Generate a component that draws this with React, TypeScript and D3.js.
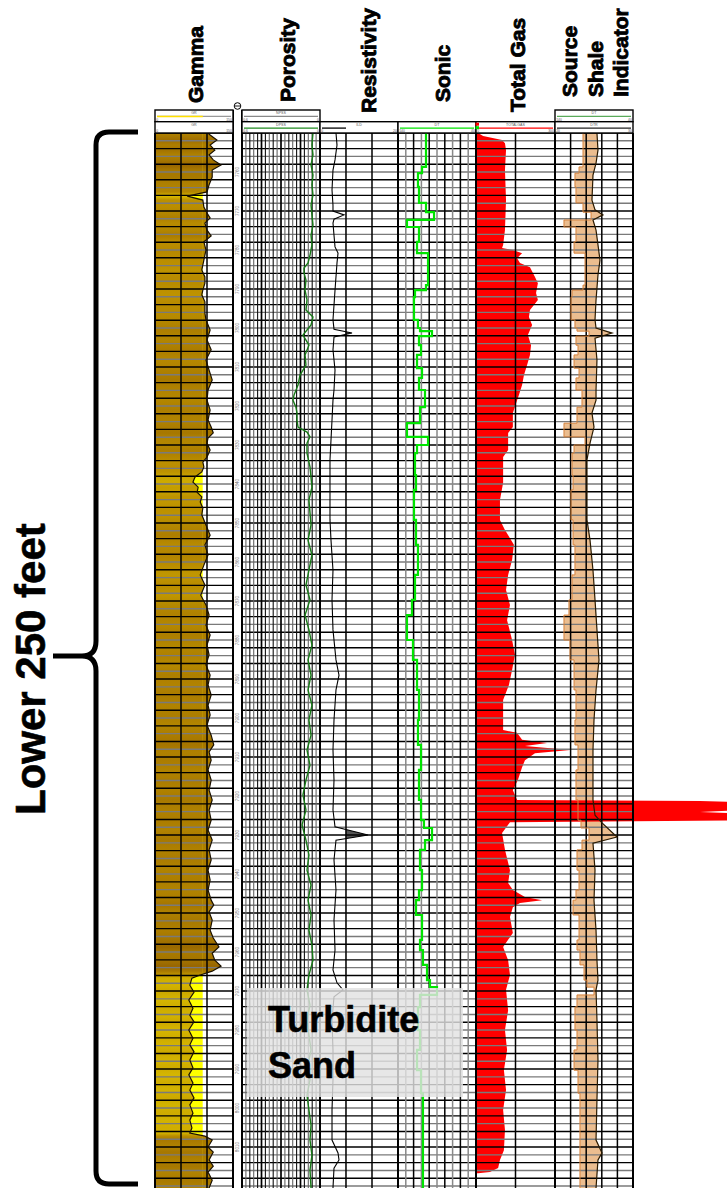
import React from "react";
import * as d3 from "d3";

type Pt = [number, number];

const TOP_DEPTH = 7750;
const BASE_DEPTH = 8020.5;
const PLOT_TOP = 133;
const PLOT_BOTTOM = 1188;

const trackTitles = ["Gamma", "Porosity", "Resistivity", "Sonic", "Total Gas"];
const ssiTitleLines = ["Source", "Shale", "Indicator"];
const braceLabel = "Lower 250 feet";
const sandLabel = ["Turbidite", "Sand"];

// Gamma ray, API  [depth ft, value]
const gammaData: Pt[] = [
  [7750.0,102],[7750.5,106],[7751.8,119],[7753.1,106],[7754.4,115],[7755.6,104],[7756.9,112],[7758.2,127],[7759.5,110],[7761.3,110],[7763.3,104],[7765.1,100],[7766.2,62],[7767.2,92],[7769.0,94],[7770.5,100],[7771.8,106],[7773.1,96],[7774.9,100],[7776.4,108],[7777.9,94],[7780.0,98],[7782.6,94],[7785.1,90],[7786.9,96],[7788.5,96],[7790.3,92],[7791.5,90],[7793.3,96],[7796.2,96],[7797.9,98],[7800.5,106],[7803.1,100],[7805.6,108],[7808.2,98],[7810.8,104],[7813.3,110],[7815.9,102],[7818.5,100],[7821.0,106],[7823.6,102],[7825.4,108],[7826.9,112],[7828.2,102],[7829.5,100],[7831.3,106],[7833.1,100],[7834.4,92],[7835.6,94],[7836.9,90],[7838.2,77],[7839.5,73],[7840.8,83],[7842.1,81],[7843.3,90],[7844.6,87],[7846.2,92],[7847.9,90],[7850.5,98],[7853.1,106],[7855.6,96],[7858.2,102],[7860.8,94],[7863.3,87],[7865.9,96],[7868.5,88],[7871.0,98],[7873.6,104],[7876.2,98],[7878.7,106],[7881.3,100],[7883.8,104],[7886.4,98],[7889.0,106],[7891.5,102],[7894.1,108],[7896.7,102],[7899.2,106],[7901.8,100],[7904.4,108],[7906.9,113],[7908.7,104],[7910.8,108],[7913.3,102],[7915.9,108],[7918.5,104],[7921.0,110],[7923.6,104],[7926.2,108],[7928.7,102],[7931.3,110],[7933.8,104],[7936.4,108],[7939.0,102],[7941.5,106],[7944.1,102],[7946.7,108],[7947.9,113],[7949.7,104],[7951.8,110],[7954.4,106],[7956.4,112],[7958.7,123],[7960.3,110],[7962.1,115],[7963.6,127],[7964.9,110],[7965.9,87],[7966.7,71],[7968.5,67],[7970.3,75],[7972.3,65],[7974.4,73],[7976.2,67],[7977.9,75],[7980.0,65],[7982.1,73],[7983.8,67],[7985.6,75],[7987.7,67],[7989.7,73],[7991.5,65],[7993.6,73],[7995.4,67],[7997.4,75],[7999.2,67],[8001.3,73],[8003.1,67],[8005.1,71],[8006.4,67],[8007.2,96],[8008.2,110],[8010.0,102],[8011.3,112],[8013.3,104],[8014.9,112],[8016.4,102],[8018.5,110],[8020.5,104]
];

// Density porosity (DPSS), v/v
const porosityData: Pt[] = [
  [7750.0,0.054],[7753.1,0.062],[7755.6,0.054],[7758.2,0.069],[7760.8,0.054],[7763.3,0.062],[7765.9,0.054],[7768.5,0.069],[7771.0,0.062],[7773.6,0.054],[7776.2,0.069],[7778.7,0.062],[7781.3,0.077],[7783.3,0.092],[7784.6,0.123],[7785.9,0.123],[7787.7,0.108],[7790.3,0.115],[7792.8,0.100],[7795.4,0.108],[7797.2,0.054],[7799.2,0.069],[7801.8,0.131],[7804.4,0.085],[7806.9,0.115],[7809.5,0.108],[7812.1,0.154],[7814.6,0.169],[7817.2,0.200],[7818.5,0.208],[7820.3,0.185],[7821.8,0.177],[7823.6,0.177],[7825.4,0.169],[7826.7,0.100],[7827.9,0.077],[7829.5,0.100],[7832.1,0.100],[7835.6,0.077],[7840.8,0.062],[7844.1,0.085],[7847.4,0.077],[7850.5,0.069],[7854.4,0.092],[7858.2,0.062],[7862.1,0.085],[7865.9,0.108],[7869.7,0.077],[7873.6,0.115],[7877.4,0.085],[7881.3,0.062],[7885.1,0.092],[7889.0,0.069],[7892.8,0.092],[7896.7,0.062],[7900.5,0.085],[7904.4,0.069],[7908.2,0.100],[7912.1,0.077],[7915.9,0.108],[7919.7,0.131],[7923.6,0.108],[7927.4,0.138],[7931.3,0.108],[7935.1,0.085],[7939.0,0.100],[7942.8,0.069],[7946.7,0.092],[7950.5,0.069],[7954.4,0.085],[7958.2,0.062],[7962.1,0.054],[7965.9,0.085],[7969.7,0.100],[7973.6,0.077],[7977.4,0.100],[7981.3,0.085],[7985.1,0.069],[7989.0,0.092],[7992.8,0.077],[7996.7,0.100],[8000.5,0.085],[8004.4,0.069],[8008.2,0.077],[8012.1,0.062],[8015.9,0.077],[8020.5,0.069]
];

// Deep resistivity (ILD), ohm-m
const ildData: Pt[] = [
  [7750.0,4.10],[7753.1,4.36],[7756.9,3.85],[7759.5,3.33],[7764.6,3.08],[7768.5,3.33],[7770.0,3.33],[7771.0,6.15],[7772.1,3.59],[7773.1,3.33],[7776.2,3.59],[7779.2,3.85],[7780.8,4.62],[7783.3,4.36],[7790.3,3.85],[7797.9,3.33],[7800.3,3.59],[7801.3,8.21],[7802.3,3.59],[7805.6,3.33],[7810.8,3.85],[7815.9,3.59],[7818.5,3.33],[7823.6,3.08],[7828.7,2.82],[7833.8,2.56],[7844.1,2.56],[7849.2,2.56],[7854.4,2.82],[7862.1,3.33],[7869.7,3.08],[7877.4,3.33],[7885.1,4.10],[7889.0,4.87],[7892.8,4.10],[7900.5,3.59],[7908.2,3.33],[7915.9,3.59],[7923.6,3.33],[7927.9,3.85],[7930.0,12.31],[7931.3,4.10],[7936.4,3.59],[7944.1,4.10],[7951.8,3.59],[7959.5,3.85],[7964.6,3.33],[7967.9,4.36],[7969.7,5.90],[7971.5,3.59],[7977.4,3.08],[7985.1,3.33],[7992.8,3.33],[8000.5,3.08],[8008.2,3.08],[8011.5,4.62],[8013.3,4.87],[8015.4,3.59],[8020.5,3.33]
];

// Sonic (DT), us/ft  - value holds until next depth
const dtData: Pt[] = [
  [7750.0,104.1],[7758.7,109.2],[7760.3,114.4],[7763.8,113.1],[7767.9,104.1],[7770.3,93.8],[7772.3,128.5],[7774.1,113.1],[7777.9,115.6],[7780.8,101.5],[7789.0,104.1],[7790.3,118.2],[7792.1,119.5],[7797.9,114.4],[7800.0,111.8],[7800.8,96.4],[7802.1,113.1],[7804.4,110.5],[7806.9,115.6],[7810.3,109.2],[7812.8,113.1],[7815.9,105.4],[7820.3,111.8],[7824.4,128.5],[7827.9,101.5],[7830.0,115.6],[7832.1,118.2],[7837.7,116.9],[7841.5,119.5],[7849.2,116.9],[7855.6,114.4],[7863.3,118.2],[7869.7,122.1],[7873.6,128.5],[7880.0,120.8],[7885.1,115.6],[7892.8,113.1],[7900.5,114.4],[7906.9,110.5],[7913.3,113.1],[7921.0,110.5],[7926.2,106.7],[7928.2,96.4],[7931.3,105.4],[7933.8,111.8],[7939.0,109.2],[7944.1,113.1],[7946.7,116.9],[7950.5,109.2],[7956.9,111.8],[7959.5,108.0],[7963.3,102.8],[7967.2,99.0],[7969.0,90.0],[7971.0,111.8],[7974.1,114.4],[7980.0,111.8],[7985.1,115.6],[7990.3,110.5],[7996.2,108.0],[8020.5,108.0]
];

// DTR curve of the source shale indicator
const dtrData: Pt[] = [
  [7750.0,25.38],[7754.4,25.51],[7757.7,25.26],[7760.8,24.87],[7767.2,24.74],[7769.7,25.13],[7771.0,26.15],[7772.3,24.87],[7774.9,25.26],[7778.7,25.51],[7782.6,25.77],[7786.4,25.51],[7792.8,25.26],[7797.9,25.13],[7800.0,25.26],[7801.3,27.31],[7802.6,25.13],[7808.2,25.38],[7815.9,25.26],[7818.5,25.26],[7821.8,24.74],[7825.4,25.00],[7829.5,24.49],[7833.8,24.10],[7849.2,24.10],[7854.4,24.49],[7862.1,24.87],[7869.7,25.13],[7877.4,25.38],[7885.1,25.64],[7892.8,25.26],[7900.5,25.00],[7908.2,24.87],[7921.0,24.87],[7924.9,25.13],[7926.9,26.03],[7930.5,27.95],[7932.1,24.87],[7939.0,25.13],[7946.7,25.00],[7954.4,25.26],[7962.1,25.38],[7967.2,25.51],[7969.7,25.26],[7977.4,25.38],[7987.7,25.51],[7997.9,25.38],[8008.2,25.26],[8011.5,26.03],[8013.3,25.51],[8020.5,25.26]
];

// Total gas, units
const gasData: Pt[] = [
  [7750.0,8],[7750.8,27],[7751.8,99],[7752.6,110],[7754.4,114],[7759.5,110],[7767.2,114],[7774.9,110],[7778.7,103],[7779.5,99],[7780.0,140],[7780.8,175],[7782.1,156],[7783.3,167],[7784.4,205],[7786.9,224],[7788.5,235],[7791.0,228],[7792.8,235],[7795.4,205],[7797.2,201],[7799.2,213],[7801.8,197],[7804.4,209],[7806.9,205],[7809.5,194],[7812.1,182],[7814.6,175],[7817.2,163],[7818.5,156],[7821.8,140],[7825.4,140],[7826.9,122],[7831.3,122],[7833.1,103],[7839.7,103],[7844.1,91],[7849.2,91],[7851.8,110],[7855.6,144],[7859.5,137],[7863.3,122],[7867.2,114],[7871.0,129],[7874.9,118],[7880.0,137],[7883.8,148],[7887.7,137],[7891.5,125],[7895.4,103],[7903.1,103],[7903.8,156],[7905.6,175],[7906.4,270],[7907.2,186],[7908.2,357],[7909.0,224],[7910.8,186],[7912.6,175],[7915.9,159],[7918.5,140],[7921.0,156],[7921.3,851],[7921.8,1154],[7923.1,1192],[7924.1,851],[7924.9,1173],[7926.2,1116],[7926.7,129],[7929.5,99],[7933.8,110],[7939.0,129],[7942.3,122],[7944.1,140],[7945.9,186],[7946.7,251],[7947.4,167],[7948.5,140],[7951.0,129],[7955.1,140],[7958.7,103],[7962.1,122],[7965.9,129],[7969.7,114],[7974.9,122],[7980.0,110],[7985.1,118],[7990.3,106],[7995.4,114],[8000.5,103],[8005.6,110],[8010.8,106],[8013.3,91],[8015.4,84],[8016.4,53],[8016.7,8]
];

// Scale ranges printed in headers
const GAMMA_RANGE: [number, number] = [0, 150];
const GAMMA_CUTOFF = 92;
const POR_RANGE: [number, number] = [0.6, 0];
const ILD_RANGE: [number, number] = [0, 20];
const ILD_CUTOFF = 6.5;
const DT_RANGE: [number, number] = [140, 40];
const GAS_RANGE: [number, number] = [0, 300];
const DTR_RANGE: [number, number] = [20, 30];

const T = {
  gamma: [155, 233] as [number, number],
  depth: [233, 242] as [number, number],
  por: [242, 320] as [number, number],
  res: [320, 398] as [number, number],
  son: [398, 476] as [number, number],
  gas: [476, 555] as [number, number],
  ssi: [555, 633] as [number, number],
};

const FONT = "'Liberation Sans', Arial, Helvetica, sans-serif";

function HeaderBox(props: {
  x0: number; x1: number; y0: number; y1: number; label: string;
  color: string; lo: string; hi: string; lineEnd?: number; extra?: React.ReactNode;
}) {
  const { x0, x1, y0, y1, label, color, lo, hi, lineEnd, extra } = props;
  return (
    <g>
      <rect x={x0} y={y0} width={x1 - x0} height={y1 - y0} fill="#fff" stroke="#000" strokeWidth={1.4} />
      <text x={(x0 + x1) / 2} y={y0 + 4.2} fontSize={3.6} textAnchor="middle" fill="#555" fontFamily={FONT}>{label}</text>
      <line x1={x0 + 2} x2={lineEnd ?? x1 - 2} y1={y0 + 6.4} y2={y0 + 6.4} stroke={color} strokeWidth={1.3} />
      {extra}
      <text x={x0 + 1.2} y={y1 - 1} fontSize={3.4} fill="#555" fontFamily={FONT}>{lo}</text>
      <text x={x1 - 1.2} y={y1 - 1} fontSize={3.4} textAnchor="end" fill="#555" fontFamily={FONT}>{hi}</text>
    </g>
  );
}

export default function App() {
  const y = d3.scaleLinear().domain([TOP_DEPTH, BASE_DEPTH]).range([PLOT_TOP, PLOT_BOTTOM]);
  const gX = d3.scaleLinear().domain(GAMMA_RANGE).range(T.gamma);
  const pX = d3.scaleLinear().domain(POR_RANGE).range(T.por);
  const rX = d3.scaleLinear().domain(ILD_RANGE).range(T.res);
  const sX = d3.scaleLinear().domain(DT_RANGE).range(T.son);
  const gasX = d3.scaleLinear().domain(GAS_RANGE).range(T.gas);
  const ssiDtX = d3.scaleLinear().domain(DT_RANGE).range(T.ssi);
  const dtrX = d3.scaleLinear().domain(DTR_RANGE).range(T.ssi);

  const gColor = d3.scaleLinear<string>().domain([62, 92, 125]).range(["#d8ba00", "#bc9000", "#986600"]).clamp(true);

  const yd = (d: Pt) => y(d[0]);

  const gammaArea = d3.area<Pt>().y(yd).x0(gX(0)).x1(d => gX(d[1]))(gammaData) || "";
  const gammaYellow = d3.area<Pt>().y(yd).x0(d => gX(d[1])).x1(gX(GAMMA_CUTOFF))(gammaData) || "";
  const gammaLine = d3.line<Pt>().x(d => gX(d[1])).y(yd)(gammaData) || "";
  const porLine = d3.line<Pt>().x(d => pX(d[1])).y(yd)(porosityData) || "";
  const ildLine = d3.line<Pt>().x(d => rX(d[1])).y(yd)(ildData) || "";
  const ildFill = d3.area<Pt>().y(yd).x0(rX(ILD_CUTOFF)).x1(d => rX(d[1]))(ildData) || "";
  const dtLine = d3.line<Pt>().x(d => sX(d[1])).y(yd).curve(d3.curveStepBefore)(dtData) || "";
  const ssiDtLine = d3.line<Pt>().x(d => ssiDtX(d[1])).y(yd).curve(d3.curveStepBefore)(dtData) || "";
  const dtrLine = d3.line<Pt>().x(d => dtrX(d[1])).y(yd)(dtrData) || "";
  const dtrBack = (d3.line<Pt>().x(d => dtrX(d[1])).y(yd)(dtrData.slice().reverse()) || "").replace(/^M/, "L");
  const ssiFill = ssiDtLine + dtrBack + "Z";
  const gasArea = d3.area<Pt>().y(yd).x0(gasX(0)).x1(d => gasX(d[1]))(gasData) || "";

  const gridDepths = d3.range(TOP_DEPTH, BASE_DEPTH, 2);
  const labelDepths = d3.range(TOP_DEPTH + 10, BASE_DEPTH - 5, 10);

  const span = PLOT_BOTTOM - PLOT_TOP;

  // vertical grid definitions
  const vlines: { x: number; c: string; w: number }[] = [];
  [1, 2].forEach(i => vlines.push({ x: T.gamma[0] + (i * (T.gamma[1] - T.gamma[0])) / 3, c: "#000", w: 1.5 }));
  d3.range(1, 20).forEach(i => {
    const x = T.por[0] + (i * (T.por[1] - T.por[0])) / 20;
    vlines.push({ x, c: i % 5 === 0 ? "#000" : i % 2 === 0 ? "#111" : "#666", w: i % 5 === 0 ? 1.7 : 1.1 });
  });
  [1, 2].forEach(i => vlines.push({ x: T.res[0] + (i * (T.res[1] - T.res[0])) / 3, c: "#000", w: 1.5 }));
  d3.range(1, 10).forEach(i => vlines.push({ x: T.son[0] + (i * (T.son[1] - T.son[0])) / 10, c: i % 2 === 0 ? "#000" : "#888", w: 1.5 }));
  vlines.push({ x: T.gas[0] + (T.gas[1] - T.gas[0]) / 2, c: "#000", w: 1.5 });
  d3.range(1, 5).forEach(i => vlines.push({ x: T.ssi[0] + (i * (T.ssi[1] - T.ssi[0])) / 5, c: "#000", w: 1.5 }));

  const borders = [T.gamma[0], T.gamma[1], T.por[0], T.por[1], T.res[1], T.son[1], T.gas[1], T.ssi[1]];

  const hY0 = 110, hY1 = 121.7, hY2 = 133;

  const titleSpecs = [
    { t: trackTitles[0], x: 203, y: 103 },
    { t: trackTitles[1], x: 295, y: 102 },
    { t: trackTitles[2], x: 376, y: 113 },
    { t: trackTitles[3], x: 450, y: 102 },
    { t: trackTitles[4], x: 525, y: 112 },
    { t: ssiTitleLines[0], x: 577, y: 97 },
    { t: ssiTitleLines[1], x: 603, y: 97 },
    { t: ssiTitleLines[2], x: 628, y: 97 },
  ];

  const midBrace = 656;

  return (
    <svg width={727} height={1188} style={{ position: "absolute", left: 0, top: 0, background: "#fff" }} fontFamily={FONT}>
      <defs>
        <linearGradient id="gammaGrad" gradientUnits="userSpaceOnUse" x1={0} y1={PLOT_TOP} x2={0} y2={PLOT_BOTTOM}>
          {gammaData.map((d, i) => (
            <stop key={i} offset={(y(d[0]) - PLOT_TOP) / span} stopColor={gColor(d[1])} />
          ))}
        </linearGradient>
        <linearGradient id="grHead" x1="0" x2="1" y1="0" y2="0">
          <stop offset="0" stopColor="#ffe600" />
          <stop offset="1" stopColor="#8a4a10" />
        </linearGradient>
        <clipPath id="clipYellow">
          <rect x={T.gamma[0]} y={PLOT_TOP} width={gX(GAMMA_CUTOFF) - T.gamma[0]} height={span} />
        </clipPath>
        <clipPath id="clipIld">
          <rect x={rX(ILD_CUTOFF)} y={PLOT_TOP} width={T.res[1] - rX(ILD_CUTOFF)} height={span} />
        </clipPath>
        <clipPath id="clipPlot">
          <rect x={0} y={PLOT_TOP} width={727} height={span} />
        </clipPath>
      </defs>

      {/* fills */}
      <g clipPath="url(#clipPlot)">
        <path d={gammaArea} fill="url(#gammaGrad)" />
        <path d={gammaYellow} fill="#ffff00" clipPath="url(#clipYellow)" />
        <path d={ildFill} fill="#555" clipPath="url(#clipIld)" />
        <path d={ssiFill} fill="#ebbd8f" />
        <path d={gasArea} fill="#ff0000" />
      </g>

      {/* horizontal grid */}
      <g>
        {gridDepths.map((d, i) => {
          const yy = y(d);
          const c = i % 2 === 0 ? "#000" : "#7a7a7a";
          return (
            <g key={d}>
              <line x1={T.gamma[0]} x2={T.gamma[1]} y1={yy} y2={yy} stroke={c} strokeWidth={1.4} />
              <line x1={T.por[0]} x2={T.ssi[1]} y1={yy} y2={yy} stroke={c} strokeWidth={1.4} />
            </g>
          );
        })}
      </g>

      {/* vertical grid */}
      <g>
        {vlines.map((v, i) => (
          <line key={i} x1={v.x} x2={v.x} y1={PLOT_TOP} y2={PLOT_BOTTOM} stroke={v.c} strokeWidth={v.w} />
        ))}
      </g>

      {/* curves */}
      <g clipPath="url(#clipPlot)" fill="none">
        <path d={gammaLine} stroke="#1a1000" strokeWidth={1.2} />
        <path d={porLine} stroke="#177a17" strokeWidth={1.4} />
        <path d={ildLine} stroke="#000" strokeWidth={1.1} />
        <path d={dtLine} stroke="#00e400" strokeWidth={2.2} />
        <path d={ssiDtLine} stroke="#d7833c" strokeWidth={1} />
        <path d={dtrLine} stroke="#2a1a00" strokeWidth={1.2} />
      </g>

      {/* track borders */}
      <g>
        {borders.map((x, i) => (
          <line key={i} x1={x} x2={x} y1={x === T.gamma[1] || x === T.por[0] ? 110 : PLOT_TOP} y2={PLOT_BOTTOM} stroke="#000" strokeWidth={2} />
        ))}
      </g>

      {/* depth labels */}
      <g>
        {labelDepths.map(d => (
          <text key={d} transform={`translate(${(T.depth[0] + T.depth[1]) / 2 + 1.6},${y(d)}) rotate(-90)`} fontSize={4.6} textAnchor="middle" fill="#777">{d}</text>
        ))}
      </g>

      {/* headers */}
      <HeaderBox x0={T.gamma[0]} x1={T.gamma[1]} y0={hY0} y1={hY1} label="GR" color="#999" lo="0" hi="150"
        extra={<line x1={T.gamma[0] + 2} x2={gX(GAMMA_CUTOFF)} y1={hY0 + 6.4} y2={hY0 + 6.4} stroke="#ffe000" strokeWidth={1.5} />} />
      <HeaderBox x0={T.gamma[0]} x1={T.gamma[1]} y0={hY1} y1={hY2} label="GR" color="url(#grHead)" lo="0" hi="150" />
      <HeaderBox x0={T.por[0]} x1={T.por[1]} y0={hY0} y1={hY1} label="NPSS" color="#888" lo="0.6" hi="0" />
      <HeaderBox x0={T.por[0]} x1={T.por[1]} y0={hY1} y1={hY2} label="DPSS" color="#1f8a1f" lo="0.6" hi="0" />
      <HeaderBox x0={T.res[0]} x1={T.res[1]} y0={hY1} y1={hY2} label="ILD" color="#000" lo="0" hi="20" lineEnd={T.res[0] + 26} />
      <HeaderBox x0={T.son[0]} x1={T.son[1]} y0={hY1} y1={hY2} label="DT" color="#00e400" lo="140" hi="40" />
      <HeaderBox x0={T.gas[0]} x1={T.gas[1]} y0={hY1} y1={hY2} label="TOTALGAS" color="#ff0000" lo="0" hi="300" />
      <HeaderBox x0={T.ssi[0]} x1={T.ssi[1]} y0={hY0} y1={hY1} label="DT" color="#5aaa5a" lo="140" hi="40" />
      <HeaderBox x0={T.ssi[0]} x1={T.ssi[1]} y0={hY1} y1={hY2} label="DTR" color="#222" lo="20" hi="30" />
      <rect x={T.gas[0] - 0.5} y={hY1 + 1} width={3.5} height={3} fill="#ff0000" />
      <rect x={T.gas[0] - 0.5} y={hY1 + 4.5} width={3.5} height={3} fill="#00e400" />
      <circle cx={(T.depth[0] + T.depth[1]) / 2} cy={106} r={3.3} fill="#fff" stroke="#000" strokeWidth={1} />
      <line x1={(T.depth[0] + T.depth[1]) / 2 - 2.6} x2={(T.depth[0] + T.depth[1]) / 2 + 2.6} y1={106} y2={106} stroke="#000" strokeWidth={0.9} />

      {/* column titles */}
      <g fontWeight="bold" fontSize={21} fill="#000" stroke="#000" strokeWidth={0.9}>
        {titleSpecs.map(s => (
          <text key={s.t} transform={`translate(${s.x},${s.y}) rotate(-90)`}>{s.t}</text>
        ))}
      </g>

      {/* turbidite sand annotation */}
      <rect x={247} y={988} width={216} height={109} fill="#e2e2e2" opacity={0.82} />
      <g fontWeight="bold" fontSize={36} fill="#000" stroke="#000" strokeWidth={0.6}>
        <text x={268} y={1032}>{sandLabel[0]}</text>
        <text x={268} y={1078}>{sandLabel[1]}</text>
      </g>

      {/* brace */}
      <path
        d={`M 138 132 L 109 132 Q 96 132 96 145 L 96 ${midBrace - 15} Q 96 ${midBrace} 82 ${midBrace} L 53 ${midBrace} M 82 ${midBrace} Q 96 ${midBrace} 96 ${midBrace + 15} L 96 1171 Q 96 1184 109 1184 L 138 1184`}
        fill="none" stroke="#000" strokeWidth={5} />
      <text transform="translate(45,815) rotate(-90)" fontWeight="bold" fontSize={42} fill="#000" stroke="#000" strokeWidth={0.6}>{braceLabel}</text>
    </svg>
  );
}
